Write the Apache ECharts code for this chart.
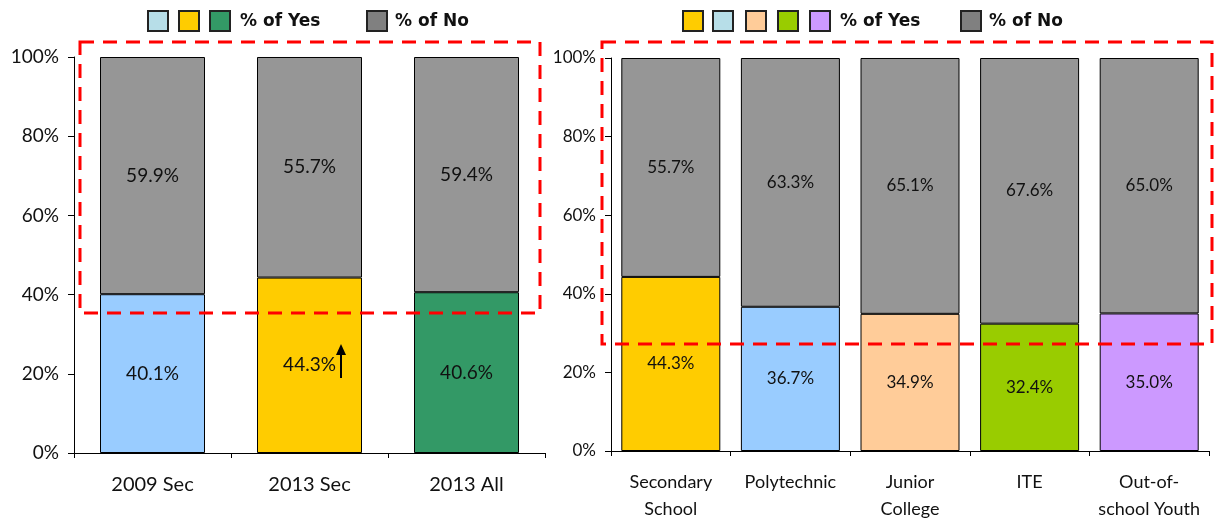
<!DOCTYPE html>
<html>
<head>
<meta charset="utf-8">
<script src="https://cdn.jsdelivr.net/npm/echarts@6/dist/echarts.min.js"></script>
<style>
  html, body { margin: 0; padding: 0; background: #fff; }
  #chart { width: 1218px; height: 523px; }
</style>
</head>
<body>
<div id="chart"></div>
<script>
// left panel
const leftCategories = ["2009 Sec", "2013 Sec", "2013 All"];
const leftYes = [40.1, 44.3, 40.6];
const leftNo = [59.9, 55.7, 59.4];
const leftYesColors = ["#99CCFF", "#FFCC00", "#339966"];
const leftLegendSwatches = ["#B7DEE8", "#FFCC00", "#339966"];

// right panel
const rightCategories = ["Secondary\nSchool", "Polytechnic", "Junior\nCollege", "ITE", "Out-of-\nschool Youth"];
const rightYes = [44.3, 36.7, 34.9, 32.4, 35.0];
const rightNo = [55.7, 63.3, 65.1, 67.6, 65.0];
const rightYesColors = ["#FFCC00", "#99CCFF", "#FFCC99", "#99CC00", "#CC99FF"];
const rightLegendSwatches = ["#FFCC00", "#B7DEE8", "#FFCC99", "#99CC00", "#CC99FF"];

const yTicks = [0, 20, 40, 60, 80, 100];
const noColor = "#969696";
const font = "Lato, 'Open Sans', sans-serif";

const chart = echarts.init(document.getElementById("chart"));

function yAxis(gridIndex, size) {
  return {
    gridIndex: gridIndex,
    type: "value",
    min: yTicks[0],
    max: yTicks[yTicks.length - 1],
    interval: 20,
    axisLine: { show: true, lineStyle: { color: "#000", width: 1 } },
    axisTick: { show: true, length: 6, lineStyle: { color: "#000" } },
    splitLine: { show: false },
    axisLabel: { formatter: "{value}%", color: "#111", fontSize: size, fontFamily: font, margin: 15 },
  };
}

function xAxis(gridIndex, cats, size) {
  return {
    gridIndex: gridIndex,
    type: "category",
    data: cats,
    axisLine: { show: true, lineStyle: { color: "#000", width: 1 } },
    axisTick: { show: true, length: 5, lineStyle: { color: "#000" } },
    axisLabel: { color: "#111", fontSize: size, fontFamily: font, margin: 18, lineHeight: 27, interval: 0 },
  };
}

function pct(v) { return v.toFixed(1) + "%"; }

function yesSeries(idx, vals, colors, width, size) {
  return {
    type: "bar",
    xAxisIndex: idx,
    yAxisIndex: idx,
    stack: "s" + idx,
    barWidth: width,
    data: vals.map((v, i) => ({ value: v, itemStyle: { color: colors[i] } })),
    itemStyle: { borderColor: "#000", borderWidth: 1 },
    label: { show: true, position: "inside", color: "#111", fontSize: size, fontFamily: font, formatter: p => pct(p.value) },
  };
}

function noSeries(idx, vals, width, size) {
  return {
    type: "bar",
    xAxisIndex: idx,
    yAxisIndex: idx,
    stack: "s" + idx,
    barWidth: width,
    data: vals,
    itemStyle: { color: noColor, borderColor: "#000", borderWidth: 1 },
    label: { show: true, position: "inside", color: "#111", fontSize: size, fontFamily: font, formatter: p => pct(p.value) },
  };
}

function legend(x0, swatches, yesX, noX) {
  const els = [];
  swatches.forEach((c, i) => {
    els.push({ type: "rect", shape: { x: x0[i], y: 11, width: 20, height: 20 },
      style: { fill: c, stroke: "#222", lineWidth: 2 } });
  });
  els.push({ type: "text", x: yesX, y: 22, style: { text: "% of Yes", fill: "#111",
    font: "bold 17px 'DejaVu Sans', sans-serif", textVerticalAlign: "middle" } });
  els.push({ type: "rect", shape: { x: noX, y: 11, width: 20, height: 20 },
    style: { fill: "#808080", stroke: "#222", lineWidth: 2 } });
  els.push({ type: "text", x: noX + 28, y: 22, style: { text: "% of No", fill: "#111",
    font: "bold 17px 'DejaVu Sans', sans-serif", textVerticalAlign: "middle" } });
  return els;
}

const dashBox = (x, y, w, h) => ({
  type: "rect", z: 100, shape: { x: x, y: y, width: w, height: h },
  style: { fill: "none", stroke: "#FF0000", lineWidth: 3, lineDash: [14, 9] },
});

chart.setOption({
  animation: false,
  grid: [
    { left: 74, top: 57, width: 471, height: 396 },
    { left: 611, top: 58, width: 598, height: 395 },
  ],
  xAxis: [xAxis(0, leftCategories, 20), xAxis(1, rightCategories, 18)],
  yAxis: [yAxis(0, 19), yAxis(1, 17)],
  series: [
    yesSeries(0, leftYes, leftYesColors, 105, 19),
    noSeries(0, leftNo, 105, 19),
    yesSeries(1, rightYes, rightYesColors, 99, 17),
    noSeries(1, rightNo, 99, 17),
  ],
  graphic: [
    ...legend([148, 179, 210], leftLegendSwatches, 240, 367),
    ...legend([683, 713, 746, 778, 810], rightLegendSwatches, 840, 961),
    dashBox(80, 42, 460, 271),
    dashBox(602, 42, 610, 302),
    // up arrow beside 2013 Sec label
    { type: "line", z: 100, shape: { x1: 341, y1: 378, x2: 341, y2: 352 }, style: { stroke: "#000", lineWidth: 2 } },
    { type: "polygon", z: 100, shape: { points: [[341, 344], [336, 355], [346, 355]] }, style: { fill: "#000" } },
  ],
});
</script>
</body>
</html>
